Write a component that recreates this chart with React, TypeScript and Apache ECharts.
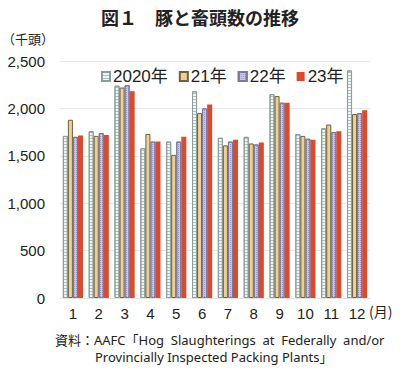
import React, { useEffect, useRef } from "react";
import * as echarts from "echarts";

const months = ["1", "2", "3", "4", "5", "6", "7", "8", "9", "10", "11", "12"];
const seriesNames = ["2020年", "21年", "22年", "23年"];
const v2020 = [1710, 1760, 2240, 1580, 1650, 2180, 1690, 1700, 2150, 1730, 1790, 2400];
const v2021 = [1880, 1710, 2220, 1730, 1510, 1950, 1610, 1630, 2130, 1710, 1830, 1940];
const v2022 = [1700, 1740, 2245, 1650, 1650, 2000, 1650, 1620, 2060, 1680, 1750, 1950];
const v2023 = [1715, 1720, 2180, 1650, 1700, 2040, 1670, 1640, 2060, 1670, 1760, 1980];
const yTicks = [0, 500, 1000, 1500, 2000, 2500];

const FONT = "'Liberation Sans', 'Noto Sans CJK JP', sans-serif";
const JP = "'Noto Sans CJK JP', 'Liberation Sans', sans-serif";
const NOTE = "'Noto Sans', 'Noto Sans CJK JP', sans-serif";

export default function App() {
  const ref = useRef<HTMLDivElement>(null);
  useEffect(() => {
    if (!ref.current) return;
    const chart = echarts.init(ref.current, undefined, { renderer: "svg" });
    const styles = [
      {
        color: "#eef3f3",
        borderColor: "#8d9c9c",
        borderWidth: 1,
        decal: {
          symbol: "rect",
          symbolSize: 1,
          color: "rgba(120,150,150,0.55)",
          dashArrayX: [1, 0],
          dashArrayY: [1, 2],
          rotation: 0,
        },
      },
      { color: "#f0d08e", borderColor: "#6e6040", borderWidth: 1 },
      {
        color: "#c8c8e8",
        borderColor: "#7a7aa0",
        borderWidth: 1,
        decal: {
          symbol: "rect",
          symbolSize: 1,
          color: "rgba(90,90,160,0.45)",
          dashArrayX: [1, 1],
          dashArrayY: [1, 1],
          rotation: 0,
        },
      },
      { color: "#dc4a2c", borderColor: "#dc4a2c", borderWidth: 0 },
    ];
    const data = [v2020, v2021, v2022, v2023];
    chart.setOption({
      animation: false,
      textStyle: { fontFamily: FONT },
      title: {
        text: "図１　豚と畜頭数の推移",
        left: "center",
        top: 3,
        textStyle: { fontFamily: JP, fontSize: 18, fontWeight: "bold", color: "#222" },
      },
      legend: {
        data: seriesNames,
        top: 63,
        left: 96,
        itemWidth: 8,
        itemHeight: 9,
        itemGap: 11,
        icon: "rect",
        textStyle: { fontFamily: FONT, fontSize: 17, color: "#222", padding: [0, 0, 0, -2] },
      },
      grid: { left: 60, right: 30, top: 61, bottom: 72, containLabel: false },
      xAxis: {
        type: "category",
        data: months,
        axisLine: { show: true, lineStyle: { color: "#e3e3e3" } },
        axisTick: { show: false },
        axisLabel: { fontSize: 15, color: "#222", fontFamily: FONT, margin: 8 },
      },
      yAxis: {
        type: "value",
        min: 0,
        max: 2500,
        interval: 500,
        axisLine: { show: false },
        axisTick: { show: false },
        splitLine: { lineStyle: { color: "#e8e8e8" } },
        axisLabel: {
          fontSize: 15,
          color: "#222",
          fontFamily: FONT,
          margin: 15,
          formatter: (v: number) => (yTicks.includes(v) ? v.toLocaleString("en-US") : ""),
        },
      },
      series: seriesNames.map((name, i) => ({
        name,
        type: "bar",
        data: data[i],
        barGap: "0%",
        barCategoryGap: "22%",
        itemStyle: styles[i],
      })),
      graphic: [
        {
          type: "text",
          left: 2,
          top: 32,
          style: { text: "（千頭）", fontFamily: JP, fontSize: 13, fill: "#222" },
        },
        {
          type: "text",
          left: 369,
          top: 304,
          style: { text: "(月)", fontFamily: JP, fontSize: 14, fill: "#222" },
        },
        {
          type: "text",
          left: 55,
          top: 333,
          style: {
            text: "資料：AAFC「Hog  Slaughterings  at  Federally  and/or",
            fontFamily: NOTE,
            fontSize: 13,
            fill: "#222",
          },
        },
        {
          type: "text",
          left: 95,
          top: 350,
          style: {
            text: "Provincially Inspected Packing Plants」",
            fontFamily: NOTE,
            fontSize: 13,
            fill: "#222",
          },
        },
      ],
    });
    return () => chart.dispose();
  }, []);
  return (
    <div
      ref={ref}
      style={{ position: "fixed", left: 0, top: 0, width: 400, height: 370, background: "#fff" }}
    />
  );
}
